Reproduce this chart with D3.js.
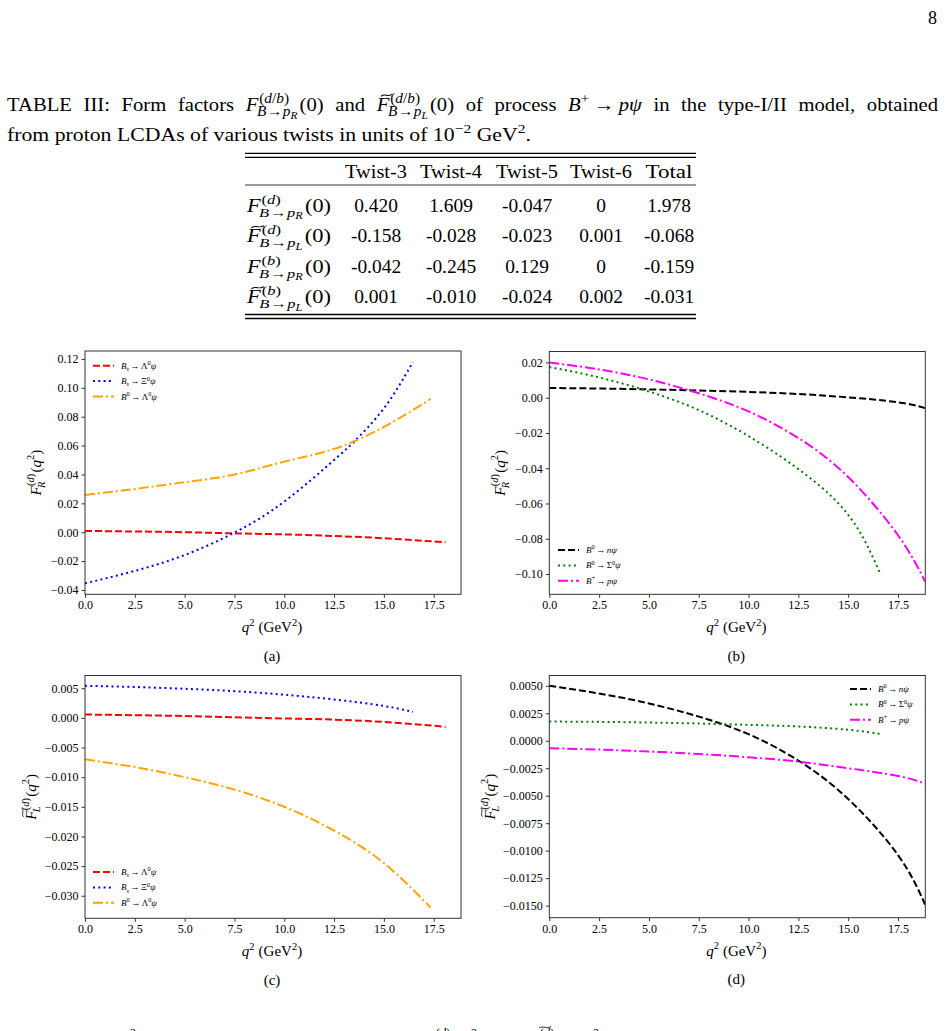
<!DOCTYPE html>
<html><head><meta charset="utf-8">
<script src="https://cdn.jsdelivr.net/npm/d3@7"></script>
<style>
body{margin:0;background:#fff}
svg{display:block}
text{font-family:"Liberation Serif","Times New Roman",serif;fill:#000}
</style>
</head><body>
<svg id="page" width="945" height="1031"></svg>
<script>
// ---------------- DATA ----------------
// Table III
const twistHeaders = ["Twist-3", "Twist-4", "Twist-5", "Twist-6", "Total"];
const rowFRd = ["0.420", "1.609", "-0.047", "0", "1.978"];
const rowFLd = ["-0.158", "-0.028", "-0.023", "0.001", "-0.068"];
const rowFRb = ["-0.042", "-0.245", "0.129", "0", "-0.159"];
const rowFLb = ["0.001", "-0.010", "-0.024", "0.002", "-0.031"];

// axis ticks
const qTicks = [0, 2.5, 5, 7.5, 10, 12.5, 15, 17.5];
const yTicksA = [-0.04, -0.02, 0, 0.02, 0.04, 0.06, 0.08, 0.10, 0.12];
const yTicksB = [-0.10, -0.08, -0.06, -0.04, -0.02, 0, 0.02];
const yTicksC = [-0.030, -0.025, -0.020, -0.015, -0.010, -0.005, 0, 0.005];
const yTicksD = [-0.0150, -0.0125, -0.0100, -0.0075, -0.0050, -0.0025, 0, 0.0025, 0.0050];

// Panel (a): F_R^(d)(q^2)
const qA_BsLam = [0, 2.5, 5, 7.5, 10, 12.5, 15, 18.1];
const FRa_BsLam = [0.0009, 0.0005, 0.0000, -0.0008, -0.0015, -0.0026, -0.0042, -0.0070];
const qA_BsXi = [0, 2.5, 5, 7.5, 10, 12.5, 13.5, 15, 16.45];
const FRa_BsXi = [-0.0354, -0.0268, -0.0158, -0.0003, 0.0212, 0.0500, 0.0627, 0.0858, 0.1177];
const qA_B0Lam = [0, 2.5, 5, 7.5, 10, 12.5, 15, 17.35];
const FRa_B0Lam = [0.0258, 0.0300, 0.0346, 0.0400, 0.0489, 0.0577, 0.0729, 0.0923];

// Panel (b): F_R^(d)(q^2)
const qB_n = [0, 2.5, 5, 7.5, 10, 12.5, 15, 17.5, 18.86];
const FRb_n = [0.0055, 0.0052, 0.0047, 0.0041, 0.0033, 0.0021, 0.0002, -0.0026, -0.0059];
const qB_Sig = [0, 2.5, 5, 7.5, 10, 12.5, 15, 16.6];
const FRb_Sig = [0.0174, 0.0115, 0.0035, -0.0070, -0.0218, -0.0405, -0.0664, -0.0996];
const qB_p = [0, 2.5, 5, 7.5, 10, 12.5, 15, 17.5, 18.86];
const FRb_p = [0.0200, 0.0160, 0.0104, 0.0025, -0.0078, -0.0229, -0.0450, -0.0780, -0.1043];

// Panel (c): tilde F_L^(d)(q^2)
const qC_BsLam = [0, 2.5, 5, 7.5, 10, 12.5, 15, 18.1];
const FLc_BsLam = [0.00056, 0.00045, 0.0003, 0.0001, -0.0001, -0.0003, -0.0007, -0.0015];
const qC_BsXi = [0, 2.5, 5, 7.5, 10, 12.5, 15, 16.45];
const FLc_BsXi = [0.0054, 0.0052, 0.0049, 0.0045, 0.0039, 0.0031, 0.0020, 0.0010];
const qC_B0Lam = [0, 2.5, 5, 7.5, 10, 12.5, 15, 17.35];
const FLc_B0Lam = [-0.0070, -0.0083, -0.0100, -0.0121, -0.0150, -0.0190, -0.0245, -0.0320];

// Panel (d): tilde F_L^(d)(q^2)
const qD_n = [0, 2.5, 5, 7.5, 10, 12.5, 15, 17.5, 18.86];
const FLd_n = [0.0050, 0.0043, 0.0034, 0.0022, 0.0006, -0.0018, -0.0053, -0.0104, -0.0149];
const qD_Sig = [0, 2.5, 5, 7.5, 10, 12.5, 15, 16.7];
const FLd_Sig = [0.00175, 0.00172, 0.00166, 0.00157, 0.00145, 0.0013, 0.0010, 0.0006];
const qD_p = [0, 2.5, 5, 7.5, 10, 12.5, 15, 17.5, 18.86];
const FLd_p = [-0.00068, -0.0008, -0.00098, -0.0012, -0.0015, -0.0019, -0.0025, -0.0032, -0.0039];

// legend labels (math pieces)
const labBsLam = [{t:"B",i:1},{t:"s",i:1,s:0.7,dy:0.25},{t:"→",dx:1.5,gap:1.5},{t:"Λ"},{t:"0",s:0.7,dy:-0.4},{t:"ψ",i:1}];
const labBsXi  = [{t:"B",i:1},{t:"s",i:1,s:0.7,dy:0.25},{t:"→",dx:1.5,gap:1.5},{t:"Ξ"},{t:"0",s:0.7,dy:-0.4},{t:"ψ",i:1}];
const labB0Lam = [{t:"B",i:1},{t:"0",s:0.7,dy:-0.4},{t:"→",dx:1.5,gap:1.5},{t:"Λ"},{t:"0",s:0.7,dy:-0.4},{t:"ψ",i:1}];
const labB0n   = [{t:"B",i:1},{t:"0",s:0.7,dy:-0.4},{t:"→",dx:1.5,gap:1.5},{t:"nψ",i:1}];
const labB0Sig = [{t:"B",i:1},{t:"0",s:0.7,dy:-0.4},{t:"→",dx:1.5,gap:1.5},{t:"Σ"},{t:"0",s:0.7,dy:-0.4},{t:"ψ",i:1}];
const labBpP   = [{t:"B",i:1},{t:"+",s:0.7,dy:-0.4},{t:"→",dx:1.5,gap:1.5},{t:"pψ",i:1}];

// ---------------- HELPERS ----------------
const svg = d3.select("#page");
svg.append("rect").attr("width", 945).attr("height", 1031).attr("fill", "#fff");

function mathRow(parent, items, size) {
  const g = parent.append("g");
  let x = 0;
  const put = (s, xx, yy, fs, it) => {
    const t = g.append("text").attr("x", xx).attr("y", yy).attr("font-size", fs)
      .attr("font-style", it ? "italic" : "normal").text(s);
    return t.node().getComputedTextLength();
  };
  const seq = (segs, x0, yy, fs) => {
    let xx = x0;
    segs.forEach(s => {
      xx += (s.dx || 0);
      if (s.ss) xx += put(s.t, xx, yy + 0.15 * size, 0.55 * size, s.i);
      else xx += put(s.t, xx, yy, fs, s.i);
      xx += (s.gap || 0);
    });
    return xx - x0;
  };
  items.forEach(it => {
    if (it.sup || it.sub) {
      const ss = it.supShift || 0, bs = it.subShift || 0;
      const sc = it.sc || 0.72;
      const ws = it.sup ? seq(it.sup, x + ss, -0.42 * size, sc * size) + ss : 0;
      const wb = it.sub ? seq(it.sub, x + bs, 0.28 * size, sc * size) + bs : 0;
      x += Math.max(ws, wb) + 0.08 * size;
    } else {
      const fs = (it.s || 1) * size;
      const dx = it.dx || 0;
      const w = put(it.t, x + dx, (it.dy || 0) * size, fs, it.i);
      if (it.tilde) {
        const a = x + dx + 0.2 * size, b = x + dx + w + 0.15 * size, yt = -0.85 * size, h = 0.06 * size;
        g.append("path")
          .attr("d", `M${a},${yt + h} C${a + (b - a) * 0.35},${yt - 2.2 * h} ${a + (b - a) * 0.65},${yt + 2.2 * h} ${b},${yt - h}`)
          .attr("fill", "none").attr("stroke", "#000").attr("stroke-width", Math.max(0.8, 0.055 * size));
      }
      x += w + dx + (it.gap || 0);
    }
  });
  return { g, w: x };
}
function place(parent, items, size, x, y, anchor, k) {
  const r = mathRow(parent, items, size);
  k = k || 1;
  const off = anchor === "middle" ? -r.w * k / 2 : 0;
  r.g.attr("transform", `translate(${x + off},${y}) scale(${k},1)`);
  return r;
}
function placeRot(parent, items, size, cx, cy) {
  const r = mathRow(parent, items, size);
  r.g.attr("transform", `translate(${cx},${cy}) rotate(-90) translate(${-r.w / 2},${0.3 * size})`);
  return r;
}
const ffItems = (tilde, supSegs, subLetter, arg, sc) => [
  { t: "F", i: 1, tilde: tilde },
  { sup: supSegs,
    sub: [{ t: "B", i: 1 }, { t: "→", dx: 0.5, gap: 0.5 }, { t: "p", i: 1 }, { t: subLetter, i: 1, ss: 1 }],
    subShift: -1.2, supShift: 0.8, sc: sc || 0.74 },
  { t: arg, dx: 0.5 }
];
const supD = [{ t: "(" }, { t: "d", i: 1 }, { t: ")" }];
const supB = [{ t: "(" }, { t: "b", i: 1 }, { t: ")" }];
const supDB = [{ t: "(" }, { t: "d", i: 1 }, { t: "/" }, { t: "b", i: 1 }, { t: ")" }];

// ---------------- PAGE TEXT ----------------
svg.append("text").attr("x", 937).attr("y", 24).attr("text-anchor", "end").attr("font-size", 18).text("8");

const cap = svg.append("g");
const capSize = 18.5;
// caption line 2 (ragged): its width fixes the horizontal scale k imitating the wider TeX font
const line2 = mathRow(cap, [{ t: "from proton LCDAs of various twists in units of 10" },
  { t: "−2", s: 0.72, dy: -0.42, gap: 4.5 }, { t: "GeV" }, { t: "2", s: 0.72, dy: -0.42 }, { t: "." }], capSize);
const kCap = (531 - 7) / line2.w;
line2.g.attr("transform", `translate(7,141) scale(${kCap},1)`);

// caption line 1 (justified between x=7 and x=938)
const line1Tokens = [
  "TABLE", "III:", "Form", "factors",
  ffItems(false, supDB, "R", "(0)"),
  "and",
  ffItems(true, supDB, "L", "(0)"),
  "of", "process",
  [{ t: "B", i: 1 }, { t: "+", s: 0.72, dy: -0.42, gap: 4 }, { t: "→", gap: 4 }, { t: "pψ", i: 1 }],
  "in", "the", "type-I/II", "model,", "obtained"
];
const k1 = kCap * 0.95;
const l1 = cap.append("g");
const l1parts = line1Tokens.map(tk => mathRow(l1, typeof tk === "string" ? [{ t: tk }] : tk, capSize));
const l1sum = d3.sum(l1parts, p => p.w);
const l1gap = ((938 - 7) / k1 - l1sum) / (l1parts.length - 1);
let l1x = 0;
l1parts.forEach(p => { p.g.attr("transform", `translate(${l1x},0)`); l1x += p.w + l1gap; });
l1.attr("transform", `translate(7,111) scale(${k1},1)`);

// ---------------- TABLE ----------------
const tbl = svg.append("g");
const tL = 245, tR = 696;
[[153.3, 1.3], [157.3, 1.3], [185, 0.8], [314.5, 1.3], [318.5, 1.3]].forEach(([yy, sw]) =>
  tbl.append("line").attr("x1", tL).attr("x2", tR).attr("y1", yy).attr("y2", yy)
     .attr("stroke", "#000").attr("stroke-width", sw));
const colX = [376, 451, 527, 601, 669];
const headW = [62, 62, 62, 62, 47];
twistHeaders.forEach((h, i) => {
  const t = tbl.append("text").attr("font-size", 18).text(h);
  const w = t.node().getComputedTextLength();
  t.attr("transform", `translate(${colX[i] - headW[i] / 2},178) scale(${headW[i] / w},1)`);
});
const tableRows = [
  { vals: rowFRd, tilde: false, sup: supD, sub: "R", y: 211.5 },
  { vals: rowFLd, tilde: true, sup: supD, sub: "L", y: 242 },
  { vals: rowFRb, tilde: false, sup: supB, sub: "R", y: 272.5 },
  { vals: rowFLb, tilde: true, sup: supB, sub: "L", y: 303 }
];
tableRows.forEach(r => {
  const lab = mathRow(tbl, ffItems(r.tilde, r.sup, r.sub, "(0)"), 18);
  lab.g.attr("transform", `translate(247,${r.y}) scale(${84 / lab.w},1)`);
  r.vals.forEach((v, i) => {
    const t = tbl.append("text").attr("text-anchor", "middle").attr("font-size", 18).text(v);
    t.attr("transform", `translate(${colX[i]},${r.y}) scale(1.08,1)`);
  });
});

// ---------------- PLOTS ----------------
const qDomain = [0, 18.87];
const styles = {
  red:    { color: "#ff0000", dash: "7,3" },
  blue:   { color: "#0000ff", dash: "2,3.3" },
  orange: { color: "#ffa500", dash: "10,3,2,3" },
  black:  { color: "#000000", dash: "7,3" },
  green:  { color: "#008000", dash: "2,3.3" },
  magenta:{ color: "#ff00ff", dash: "10,3,2,3" }
};
const yLabR = [{ t: "F", i: 1 }, { sup: supD, sub: [{ t: "R", i: 1 }], subShift: -1.5, supShift: 0.5, sc: 0.7 },
               { t: "(" }, { t: "q", i: 1 }, { t: "2", s: 0.7, dy: -0.42 }, { t: ")" }];
const yLabL = [{ t: "F", i: 1, tilde: true }, { sup: supD, sub: [{ t: "L", i: 1 }], subShift: -1.5, supShift: 0.5, sc: 0.7 },
               { t: "(" }, { t: "q", i: 1 }, { t: "2", s: 0.7, dy: -0.42 }, { t: ")" }];
const xLab = [{ t: "q", i: 1 }, { t: "2", s: 0.7, dy: -0.42, gap: 4 }, { t: "(GeV" }, { t: "2", s: 0.7, dy: -0.42 }, { t: ")" }];

const panels = [
  { id: "a", x0: 85, x1: 461, y0: 351, y1: 594.3, yDom: [-0.0430, 0.1255], yTicks: yTicksA, fmt: ".2f",
    ylab: yLabR, ylx: 36, legend: { x: 93, y: 365.7 },
    series: [
      { q: qA_BsLam, v: FRa_BsLam, st: "red", lab: labBsLam },
      { q: qA_BsXi, v: FRa_BsXi, st: "blue", lab: labBsXi },
      { q: qA_B0Lam, v: FRa_B0Lam, st: "orange", lab: labB0Lam }] },
  { id: "b", x0: 549.3, x1: 925.3, y0: 351.5, y1: 594.3, yDom: [-0.1115, 0.0262], yTicks: yTicksB, fmt: ".2f",
    ylab: yLabR, ylx: 500, legend: { x: 558, y: 550 },
    series: [
      { q: qB_n, v: FRb_n, st: "black", lab: labB0n },
      { q: qB_Sig, v: FRb_Sig, st: "green", lab: labB0Sig },
      { q: qB_p, v: FRb_p, st: "magenta", lab: labBpP }] },
  { id: "c", x0: 85, x1: 461, y0: 675.5, y1: 918.3, yDom: [-0.0338, 0.00714], yTicks: yTicksC, fmt: ".3f",
    ylab: yLabL, ylx: 31, legend: { x: 93, y: 872 },
    series: [
      { q: qC_BsLam, v: FLc_BsLam, st: "red", lab: labBsLam },
      { q: qC_BsXi, v: FLc_BsXi, st: "blue", lab: labBsXi },
      { q: qC_B0Lam, v: FLc_B0Lam, st: "orange", lab: labB0Lam }] },
  { id: "d", x0: 549.3, x1: 925.3, y0: 675.5, y1: 917.7, yDom: [-0.0161, 0.00594], yTicks: yTicksD, fmt: ".4f",
    ylab: yLabL, ylx: 490, legend: { x: 850, y: 689 },
    series: [
      { q: qD_n, v: FLd_n, st: "black", lab: labB0n },
      { q: qD_Sig, v: FLd_Sig, st: "green", lab: labB0Sig },
      { q: qD_p, v: FLd_p, st: "magenta", lab: labBpP }] }
];

panels.forEach(p => {
  const g = svg.append("g");
  const x = d3.scaleLinear().domain(qDomain).range([p.x0, p.x1]);
  const y = d3.scaleLinear().domain(p.yDom).range([p.y1, p.y0]);
  g.append("clipPath").attr("id", "clip-" + p.id).append("rect")
    .attr("x", p.x0).attr("y", p.y0).attr("width", p.x1 - p.x0).attr("height", p.y1 - p.y0);

  const gx = g.append("g").attr("transform", `translate(0,${p.y1})`)
    .call(d3.axisBottom(x).tickValues(qTicks).tickFormat(d3.format(".1f")).tickSize(3.5).tickPadding(3));
  const gy = g.append("g").attr("transform", `translate(${p.x0},0)`)
    .call(d3.axisLeft(y).tickValues(p.yTicks).tickFormat(d3.format(p.fmt)).tickSize(3.5).tickPadding(3));
  [gx, gy].forEach(a => {
    a.select(".domain").remove();
    a.attr("font-family", null).attr("font-size", null);
    a.selectAll(".tick line").attr("stroke", "#000").attr("stroke-width", 0.8);
    a.selectAll(".tick text").attr("font-size", 12).attr("fill", "#000")
      .style("font-family", '"Liberation Serif", serif');
  });

  const line = d3.line().x(d => x(d[0])).y(d => y(d[1])).curve(d3.curveNatural);
  const lg = g.append("g").attr("clip-path", `url(#clip-${p.id})`);
  p.series.forEach(s => {
    const st = styles[s.st];
    lg.append("path").datum(d3.zip(s.q, s.v)).attr("d", line)
      .attr("fill", "none").attr("stroke", st.color).attr("stroke-width", 2)
      .attr("stroke-dasharray", st.dash);
  });

  g.append("rect").attr("x", p.x0).attr("y", p.y0).attr("width", p.x1 - p.x0).attr("height", p.y1 - p.y0)
    .attr("fill", "none").attr("stroke", "#333").attr("stroke-width", 1);

  // legend
  p.series.forEach((s, i) => {
    const st = styles[s.st];
    const yy = p.legend.y + i * 15.4;
    g.append("line").attr("x1", p.legend.x).attr("x2", p.legend.x + 21).attr("y1", yy).attr("y2", yy)
      .attr("stroke", st.color).attr("stroke-width", 2).attr("stroke-dasharray", st.dash);
    place(g, s.lab, 9, p.legend.x + 28, yy + 3);
  });

  // axis labels
  const cx = (p.x0 + p.x1) / 2 - 1;
  place(g, xLab, 15, cx, p.y1 + 38, "middle");
  placeRot(g, p.ylab, 15, p.ylx, (p.y0 + p.y1) / 2);
  g.append("text").attr("x", cx).attr("y", p.y1 + 66.5).attr("text-anchor", "middle").attr("font-size", 15)
    .text("(" + p.id + ")");
});

// ---------------- next caption (cut off at page bottom, as in the reference) ----------------
const nb = svg.append("g");
nb.append("text").attr("x", 130).attr("y", 1037).attr("font-size", 12).text("2");
place(nb, [{ t: "(" }, { t: "d", i: 1 }, { t: ")" }], 12, 436, 1037);
nb.append("text").attr("x", 471).attr("y", 1037).attr("font-size", 12).text("2");
place(nb, [{ t: "(" }, { t: "d", i: 1 }, { t: ")" }], 12, 540, 1037);
nb.append("path").attr("d", "M539,1028 C543,1025.5 547,1029 551,1026.5").attr("fill", "none").attr("stroke", "#000").attr("stroke-width", 0.8);
nb.append("text").attr("x", 593).attr("y", 1037).attr("font-size", 12).text("2");
</script>
</body></html>
